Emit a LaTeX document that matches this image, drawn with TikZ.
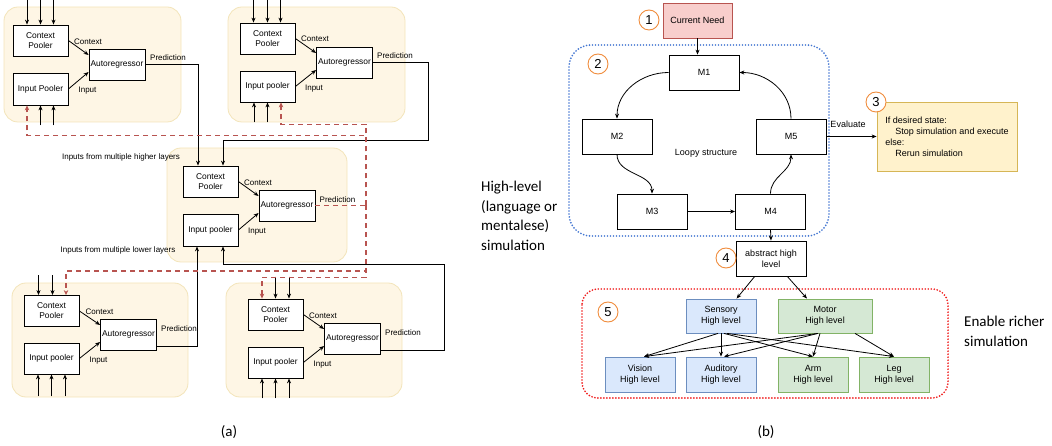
\documentclass[tikz,border=0pt]{standalone}
\usepackage{fontspec}
\setmainfont{Liberation Sans}
\newfontfamily\calibri{Carlito}
\usetikzlibrary{arrows.meta,calc}
\definecolor{layerfill}{RGB}{254,246,229}
\definecolor{layerline}{RGB}{243,228,186}
\definecolor{fbred}{RGB}{184,84,80}
\definecolor{needfill}{RGB}{248,206,204}
\definecolor{needline}{RGB}{184,84,80}
\definecolor{evfill}{RGB}{255,242,204}
\definecolor{evline}{RGB}{214,182,86}
\definecolor{blfill}{RGB}{218,232,252}
\definecolor{blline}{RGB}{108,142,191}
\definecolor{grfill}{RGB}{213,232,212}
\definecolor{grline}{RGB}{130,179,102}
\definecolor{loopblue}{RGB}{70,120,210}
\definecolor{richred}{RGB}{240,30,30}
\definecolor{numorange}{RGB}{240,140,60}

\begin{document}
\begin{tikzpicture}[x=1pt,y=-1pt,
  box/.style={draw,line width=0.8pt,fill=white,minimum width=55pt,minimum height=31pt,inner sep=1pt,align=center,font=\fontsize{8.4}{10}\selectfont},
  lab/.style={font=\fontsize{8}{9.6}\selectfont,inner sep=0pt},
  layer/.style={draw=layerline,fill=layerfill,rounded corners=14pt,line width=0.8pt},
  arr/.style={-{Stealth[length=5pt,width=4pt]},line width=0.8pt},
  fbline/.style={draw=fbred,dash pattern=on 5pt off 4pt,line width=1.4pt},
  fb/.style={fbline,-{Stealth[length=5pt,width=4.5pt]}},
  mbox/.style={draw,line width=0.8pt,fill=white,minimum width=70pt,minimum height=35pt,inner sep=1pt,align=center,font=\fontsize{9}{11}\selectfont},
  lab2/.style={font=\fontsize{9}{11}\selectfont,inner sep=0pt},
  num/.style={circle,draw=numorange,line width=0.9pt,fill=white,minimum size=20pt,inner sep=0pt,font=\fontsize{13}{13}\selectfont},
  sensbox/.style={mbox,fill=blfill,draw=blline,minimum height=34pt},
  motbox/.style={mbox,fill=grfill,draw=grline,minimum height=34pt},
  big/.style={font=\calibri\fontsize{15}{19.5}\selectfont,inner sep=0pt,align=left}]
\useasboundingbox (0,0) rectangle (1052,446);

\draw[layer] (4,7) rectangle (181,122);
\node[box] (aCP) at (40.5,40.5) {Context\\Pooler};
\node[box,minimum height=32pt] (aIP) at (40.5,89) {Input Pooler};
\node[box,minimum width=56pt] (aAR) at (117,64.5) {Autoregressor};
\draw[arr] (aCP.east) -- ([yshift=9.5pt]aAR.west);
\draw[arr] (aIP.east) -- ([yshift=-7.5pt]aAR.west);
\foreach \dx in {-13.5,0,13}
  \draw[arr] ([xshift=\dx pt,yshift=25pt]aCP.north) -- ([xshift=\dx pt]aCP.north);
\foreach \dx in {0,13}
  \draw[arr] ([xshift=\dx pt,yshift=-20pt]aIP.south) -- ([xshift=\dx pt]aIP.south);
\node[lab] at (88,42) {Context};
\node[lab] at (87.5,91) {Input};
\node[lab] at (168,58) {Prediction};

\draw[layer] (228,7) rectangle (405,122);
\node[box] (bCP) at (267.5,38.5) {Context\\Pooler};
\node[box] (bIP) at (267.5,86.5) {Input pooler};
\node[box,minimum width=56pt] (bAR) at (344.5,62.5) {Autoregressor};
\draw[arr] (bCP.east) -- ([yshift=9.5pt]bAR.west);
\draw[arr] (bIP.east) -- ([yshift=-7.5pt]bAR.west);
\foreach \dx in {-14,0,13}
  \draw[arr] ([xshift=\dx pt,yshift=23pt]bCP.north) -- ([xshift=\dx pt]bCP.north);
\foreach \dx in {-13.5,0}
  \draw[arr] ([xshift=\dx pt,yshift=-20pt]bIP.south) -- ([xshift=\dx pt]bIP.south);
\node[lab] at (315,39) {Context};
\node[lab] at (314,89) {Input};
\node[lab] at (395,56) {Prediction};

\draw[layer] (167,148) rectangle (347,262);
\node[box] (mCP) at (210.5,181.5) {Context\\Pooler};
\node[box,minimum height=32pt] (mIP) at (210.5,230) {Input pooler};
\node[box,minimum width=56pt] (mAR) at (287,205.5) {Autoregressor};
\draw[arr] (mCP.east) -- ([yshift=9.5pt]mAR.west);
\draw[arr] (mIP.east) -- ([yshift=-7.5pt]mAR.west);
\node[lab] at (258,183) {Context};
\node[lab] at (257,232) {Input};
\node[lab] at (337.5,200) {Prediction};
\node[lab] at (121,157) {Inputs from multiple higher layers};
\node[lab] at (118,250) {Inputs from multiple lower layers};

\draw[layer] (12,283) rectangle (188,397);
\node[box] (cCP) at (51.5,311) {Context\\Pooler};
\node[box] (cIP) at (51.5,358.5) {Input pooler};
\node[box,minimum width=56pt] (cAR) at (128.5,334.5) {Autoregressor};
\draw[arr] (cCP.east) -- ([yshift=9.5pt]cAR.west);
\draw[arr] (cIP.east) -- ([yshift=-7.5pt]cAR.west);
\foreach \dx in {-13,1}
  \draw[arr] ([xshift=\dx pt,yshift=20pt]cCP.north) -- ([xshift=\dx pt]cCP.north);
\foreach \dx in {-13.5,0,13.5}
  \draw[arr] ([xshift=\dx pt,yshift=-22pt]cIP.south) -- ([xshift=\dx pt]cIP.south);
\node[lab] at (99.5,312) {Context};
\node[lab] at (98.5,361) {Input};
\node[lab] at (179,329) {Prediction};

\draw[layer] (226,283) rectangle (402,397);
\node[box] (dCP) at (275.5,314.5) {Context\\Pooler};
\node[box] (dIP) at (275.5,362.5) {Input pooler};
\node[box,minimum width=56pt] (dAR) at (352.5,338.5) {Autoregressor};
\draw[arr] (dCP.east) -- ([yshift=9.5pt]dAR.west);
\draw[arr] (dIP.east) -- ([yshift=-7.5pt]dAR.west);
\foreach \dx in {0,13.5}
  \draw[arr] ([xshift=\dx pt,yshift=22pt]dCP.north) -- ([xshift=\dx pt]dCP.north);
\foreach \dx in {-13.5,0,13.5}
  \draw[arr] ([xshift=\dx pt,yshift=-20pt]dIP.south) -- ([xshift=\dx pt]dIP.south);
\node[lab] at (323,316) {Context};
\node[lab] at (322.5,365) {Input};
\node[lab] at (403,333) {Prediction};

\draw[arr] (aAR.east) -| ([xshift=-12.5pt]mCP.north);
\draw[arr] (bAR.east) -- ++(55,0) |- ([xshift=12.5pt,yshift=25pt]mCP.north) -- ([xshift=12.5pt]mCP.north);
\draw[arr] ([yshift=-12pt]cAR.east) -| ([xshift=-13.5pt]mIP.south);
\draw[arr] ([yshift=-12pt]dAR.east) -- ++(63,0) |- ([xshift=12.5pt,yshift=-18pt]mIP.south) -- ([xshift=12.5pt]mIP.south);

\coordinate (hub) at (366,205.5);
\draw[fbline] (mAR.east) -- (hub);
\draw[fb] (hub) |- ([xshift=13.5pt,yshift=-22pt]bIP.south) -- ([xshift=13.5pt]bIP.south);
\draw[fb] (hub) |- ([xshift=-13.5pt,yshift=-30pt]aIP.south) -- ([xshift=-13.5pt]aIP.south);
\draw[fb] (hub) |- ([xshift=14.5pt,yshift=24pt]cCP.north) -- ([xshift=14.5pt]cCP.north);
\draw[fb] (hub) |- ([xshift=-13.5pt,yshift=21pt]dCP.north) -- ([xshift=-13.5pt]dCP.north);

\draw[loopblue,line width=1.9pt,line cap=round,dash pattern=on 0pt off 3pt,rounded corners=22pt] (569,45) rectangle (829,236);
\draw[richred,line width=1.9pt,line cap=round,dash pattern=on 0pt off 3pt,rounded corners=16pt] (582,289) rectangle (948,398);

\node[mbox,fill=needfill,draw=needline,minimum width=69pt] (need) at (697.5,20.5) {Current Need};
\node[num] (n1) at (649,20) {1};
\node[num] (n2) at (598,64) {2};
\node[mbox] (m1) at (704,72.5) {M1};
\node[mbox] (m2) at (617,136.5) {M2};
\node[mbox] (m5) at (791,136.5) {M5};
\node[mbox] (m3) at (652,211.5) {M3};
\node[mbox] (m4) at (770.5,211.5) {M4};
\node[mbox] (abstr) at (771,258.5) {abstract high\\level};
\node[num] (n4) at (726,258) {4};
\node[lab2] at (706,153) {Loopy structure};
\draw[arr] (need.south) -- (need.south |- m1.north);
\draw[arr] (m1.west) to[out=180,in=90] (m2.north);
\draw[arr] (m2.south) to[out=-90,in=90] (m3.north);
\draw[arr] (m3) -- (m4);
\draw[arr] (m4.north) to[out=90,in=-90] (m5.south);
\draw[arr] (m5.north) to[out=90,in=0] (m1.east);
\draw[arr] (m4.south) -- (abstr.north);

\node[draw=evline,fill=evfill,line width=0.8pt,minimum width=140pt,minimum height=69pt,align=left,font=\fontsize{9}{11}\selectfont] (eval) at (947,136.5) {If desired state:\\\hspace*{10pt}Stop simulation and execute\\else:\\\hspace*{10pt}Rerun simulation};
\node[num] (n3) at (876,102) {3};
\draw[arr] (m5.east) -- (eval.west);
\node[lab2] at (848,124) {Evaluate};

\node[num] (n5) at (608,312) {5};
\node[sensbox] (sens) at (721,316) {Sensory\\High level};
\node[motbox,minimum width=94pt] (motor) at (825,316) {Motor\\High level};
\node[sensbox,minimum height=35pt] (vision) at (640,374.5) {Vision\\High level};
\node[sensbox,minimum height=35pt] (aud) at (721,374.5) {Auditory\\High level};
\node[motbox,minimum height=35pt] (arm) at (813,374.5) {Arm\\High level};
\node[motbox,minimum height=35pt] (leg) at (894,374.5) {Leg\\High level};
\draw[arr] ($(abstr.south west)!0.27!(abstr.south east)$) -- ($(sens.north west)!0.72!(sens.north east)$);
\draw[arr] ($(abstr.south west)!0.73!(abstr.south east)$) -- ($(motor.north west)!0.31!(motor.north east)$);
\draw[arr] ([xshift=-3pt]sens.south) -- ([xshift=4pt]vision.north);
\draw[arr] (sens.south) -- (aud.north);
\draw[arr] ([xshift=3pt]sens.south) -- (arm.north);
\draw[arr] ([xshift=6pt]sens.south) -- (leg.north);
\draw[arr] ([xshift=-7pt]motor.south) -- ([xshift=4pt]vision.north);
\draw[arr] ([xshift=-7pt]motor.south) -- ([xshift=3pt]aud.north);
\draw[arr] ([xshift=-5pt]motor.south) -- (arm.north);
\draw[arr] ([xshift=30pt]motor.south) -- (leg.north);

\node[big,anchor=west] (hl) at (481,216) {High-level\\(language or\\mentalese)\\simulation};
\node[big,anchor=west] (er) at (964,331.5) {Enable richer\\simulation};
\node[big] (capa) at (229,432) {(a)};
\node[big] (capb) at (766,432) {(b)};
\end{tikzpicture}
\end{document}
